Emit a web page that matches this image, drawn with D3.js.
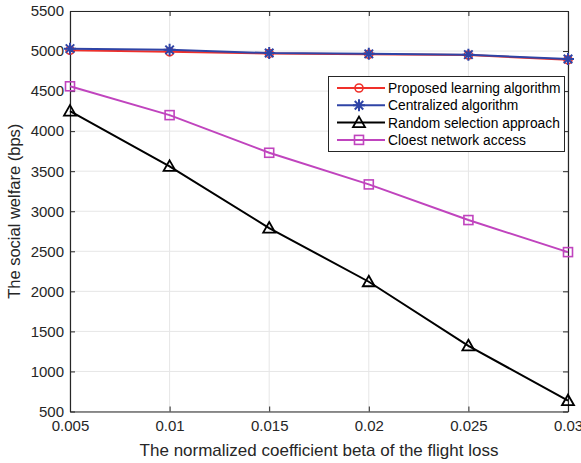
<!DOCTYPE html>
<html>
<head>
<meta charset="utf-8">
<script src="https://cdn.jsdelivr.net/npm/d3@7"></script>
<style>
  body { margin: 0; background: #fff; }
  text { font-family: "Liberation Sans", Arial, sans-serif; }
</style>
</head>
<body>
<svg width="581" height="463"></svg>
<script>
// chart data
var betas = [0.005, 0.01, 0.015, 0.02, 0.025, 0.03]
var proposed = [5010, 4990, 4970, 4960, 4950, 4890]
var centralized = [5030, 5015, 4975, 4965, 4955, 4900]
var randomSel = [4250, 3560, 2790, 2120, 1320, 635]
var closest = [4560, 4200, 3730, 3335, 2890, 2490]
var xTicks = [0.005, 0.01, 0.015, 0.02, 0.025, 0.03]
var yTicks = [500, 1000, 1500, 2000, 2500, 3000, 3500, 4000, 4500, 5000, 5500]

var series = [
  { name: 'Proposed learning algorithm', values: proposed, color: '#f0302a', marker: 'circle' },
  { name: 'Centralized algorithm', values: centralized, color: '#2f44a6', marker: 'star' },
  { name: 'Random selection approach', values: randomSel, color: '#000000', marker: 'triangle' },
  { name: 'Cloest network access', values: closest, color: '#c044be', marker: 'square' }
]

// plot box (window.top is reserved, so prefixed names)
var pLeft = 70, pRight = 568, pTop = 11, pBottom = 411.5
var svg = d3.select('svg')

var x = d3.scaleLinear().domain([0.005, 0.03]).range([pLeft, pRight])
var y = d3.scaleLinear().domain([500, 5500]).range([pBottom, pTop])

// grid
var g = svg.append('g')
g.selectAll('.vg').data(xTicks).enter().append('line')
  .attr('x1', d => x(d)).attr('x2', d => x(d))
  .attr('y1', pTop).attr('y2', pBottom)
  .attr('stroke', '#e6e6e6').attr('stroke-width', 1)
g.selectAll('.hg').data(yTicks).enter().append('line')
  .attr('x1', pLeft).attr('x2', pRight)
  .attr('y1', d => y(d)).attr('y2', d => y(d))
  .attr('stroke', '#e6e6e6').attr('stroke-width', 1)

// axes
var fmtX = d => String(d)
svg.append('g').attr('transform', 'translate(0,' + pBottom + ')')
  .call(d3.axisBottom(x).tickValues(xTicks).tickFormat(fmtX).tickSizeInner(-5).tickSizeOuter(0).tickPadding(9))
svg.append('g').attr('transform', 'translate(0,' + pTop + ')')
  .call(d3.axisTop(x).tickValues(xTicks).tickFormat('').tickSizeInner(-5).tickSizeOuter(0))
svg.append('g').attr('transform', 'translate(' + pLeft + ',0)')
  .call(d3.axisLeft(y).tickValues(yTicks).tickFormat(d3.format('d')).tickSizeInner(-5).tickSizeOuter(0).tickPadding(6))
svg.append('g').attr('transform', 'translate(' + pRight + ',0)')
  .call(d3.axisRight(y).tickValues(yTicks).tickFormat('').tickSizeInner(-5).tickSizeOuter(0))

svg.selectAll('.domain').attr('stroke', '#262626').attr('stroke-width', 1.2)
svg.selectAll('.tick line').attr('stroke', '#262626')
svg.selectAll('.tick text').attr('font-size', 15).attr('fill', '#262626')
  .style('font-family', '"Liberation Sans", Arial, sans-serif')

// axis labels
svg.append('text')
  .attr('x', (pLeft + pRight) / 2).attr('y', 456)
  .attr('text-anchor', 'middle').attr('font-size', 17).attr('fill', '#262626')
  .text('The normalized coefficient beta of the flight loss')
svg.append('text')
  .attr('transform', 'translate(20,' + ((pTop + pBottom) / 2) + ') rotate(-90)')
  .attr('text-anchor', 'middle').attr('font-size', 16.5).attr('fill', '#262626')
  .text('The social welfare (bps)')

// markers
function drawMarker (sel, type, color) {
  if (type === 'circle') {
    sel.append('circle').attr('r', 4).attr('fill', 'none').attr('stroke', color).attr('stroke-width', 1.6)
  } else if (type === 'square') {
    sel.append('rect').attr('x', -4.5).attr('y', -4.5).attr('width', 9).attr('height', 9)
      .attr('fill', 'none').attr('stroke', color).attr('stroke-width', 1.6)
  } else if (type === 'triangle') {
    sel.append('path').attr('d', 'M0,-6L6,4.5L-6,4.5Z')
      .attr('fill', 'none').attr('stroke', color).attr('stroke-width', 1.8)
  } else if (type === 'star') {
    var r = 6
    var p = ''
    for (var k = 0; k < 4; k++) {
      var a = k * Math.PI / 4
      p += 'M' + (r * Math.cos(a)) + ',' + (r * Math.sin(a)) + 'L' + (-r * Math.cos(a)) + ',' + (-r * Math.sin(a))
    }
    sel.append('path').attr('d', p).attr('stroke', color).attr('stroke-width', 2)
  }
}

var line = d3.line().x((d, i) => x(betas[i])).y(d => y(d))

series.forEach(function (s) {
  svg.append('path').datum(s.values)
    .attr('d', line).attr('fill', 'none')
    .attr('stroke', s.color).attr('stroke-width', 2)
  s.values.forEach(function (v, i) {
    var m = svg.append('g').attr('transform', 'translate(' + x(betas[i]) + ',' + y(v) + ')')
    drawMarker(m, s.marker, s.color)
  })
})

// legend
var lg = svg.append('g')
lg.append('rect').attr('x', 328.5).attr('y', 76.5).attr('width', 236).attr('height', 75)
  .attr('fill', '#fff').attr('stroke', '#262626').attr('stroke-width', 1)
series.forEach(function (s, i) {
  var yy = 88 + i * 17.3
  lg.append('line').attr('x1', 337).attr('x2', 385).attr('y1', yy).attr('y2', yy)
    .attr('stroke', s.color).attr('stroke-width', 2)
  var m = lg.append('g').attr('transform', 'translate(359,' + yy + ')')
  drawMarker(m, s.marker, s.color)
  lg.append('text').attr('x', 388).attr('y', yy + 5)
    .attr('font-size', 13.8).attr('fill', '#000').text(s.name)
})
</script>
</body>
</html>
